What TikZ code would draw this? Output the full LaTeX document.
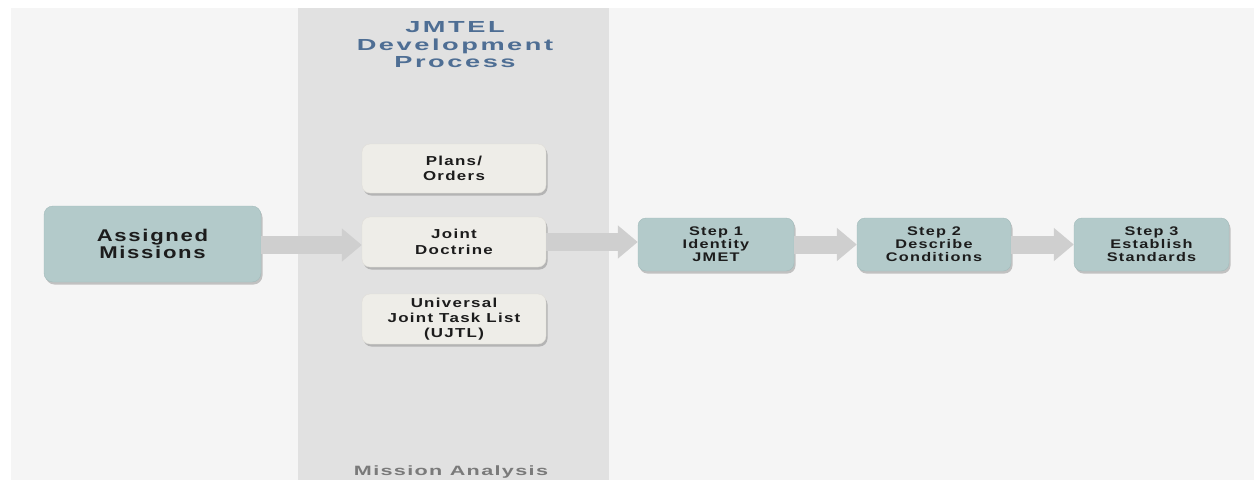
\documentclass[tikz,border=0pt]{standalone}
\usepackage{fontspec}
\setmainfont{Liberation Sans}
\newfontfamily\boxfont[FakeStretch=1.3,LetterSpace=10]{Liberation Sans Bold}
\newfontfamily\headfont[FakeStretch=1.7,LetterSpace=16]{Liberation Sans Bold}
\newfontfamily\footfont[FakeStretch=1.6,LetterSpace=10]{Liberation Sans Bold}
\usetikzlibrary{arrows.meta,shadows}

\definecolor{panel}{HTML}{F5F5F5}
\definecolor{band}{HTML}{E1E1E1}
\definecolor{tealfill}{HTML}{B3CACA}
\definecolor{tealedge}{HTML}{A2BBBB}
\definecolor{cream}{HTML}{EEEDE8}
\definecolor{creamedge}{HTML}{E0DED8}
\definecolor{flow}{HTML}{CFCFCF}
\definecolor{titleblue}{HTML}{4E6E94}
\definecolor{ink}{HTML}{1C1C1C}
\definecolor{caption}{HTML}{7A7A7A}

\tikzset{
  boxshadow/.style={drop shadow={shadow xshift=1.5pt, shadow yshift=-2.5pt, opacity=0.3, fill=black!70}},
  mainbox/.style={draw=tealedge, fill=tealfill, rounded corners=9pt, boxshadow,
    minimum width=217pt, minimum height=76pt, inner sep=0pt, align=center,
    text=ink, font=\boxfont\fontsize{17}{17}\selectfont},
  sourcebox/.style={draw=creamedge, fill=cream, rounded corners=8pt, boxshadow,
    minimum width=184pt, minimum height=50pt, inner sep=0pt, align=center,
    text=ink, font=\boxfont\fontsize{13}{15.5}\selectfont},
  stepbox/.style={draw=tealedge, fill=tealfill, rounded corners=8pt, boxshadow,
    minimum width=155pt, minimum height=53pt, inner sep=0pt, align=center,
    text=ink, font=\boxfont\fontsize{12.5}{13}\selectfont},
  flowarrow/.style={draw=flow, line width=18pt,
    -{Triangle[width=32pt,length=20pt]}, shorten >=0pt}
}

\begin{document}
\begin{tikzpicture}[x=1pt,y=-1pt]
  \useasboundingbox (0,0) rectangle (1254,480);
  % backdrop and the mission-analysis column
  \fill[white] (0,0) rectangle (1254,480);
  \fill[panel] (11,8) rectangle (1254,480);
  \fill[band] (298,8) rectangle (609,480);

  \node[text=titleblue, align=center, font=\headfont\fontsize{16}{17.5}\selectfont]
    (title) at (455,45) {JMTEL\\Development\\Process};
  \node[text=caption, font=\footfont\fontsize{13.5}{13.5}\selectfont]
    (caption) at (451,472) {Mission Analysis};

  % boxes
  \node[mainbox] (am) at (152.5,244) {Assigned\\Missions};
  \node[sourcebox, minimum height=49pt] (po) at (454,168.5) {Plans/\\Orders};
  \node[sourcebox] (jd) at (454,242) {Joint\\Doctrine};
  \node[sourcebox, font=\boxfont\fontsize{13}{15}\selectfont] (uj) at (454,319) {Universal\\Joint Task List\\(UJTL)};
  \node[stepbox, minimum width=156pt] (s1) at (716,244.5) {Step 1\\Identity\\JMET};
  \node[stepbox, minimum width=154pt] (s2) at (934,244.5) {Step 2\\Describe\\Conditions};
  \node[stepbox] (s3) at (1151.5,244.5) {Step 3\\Establish\\Standards};

  % flow arrows
  \coordinate (a0) at ([yshift=-1pt]am.east);
  \draw[flowarrow] (a0) -- (a0 -| jd.west);
  \draw[flowarrow] (jd.east) -- (jd.east -| s1.west);
  \draw[flowarrow] (s1.east) -- (s2.west);
  \draw[flowarrow] (s2.east) -- (s3.west);
\end{tikzpicture}
\end{document}
